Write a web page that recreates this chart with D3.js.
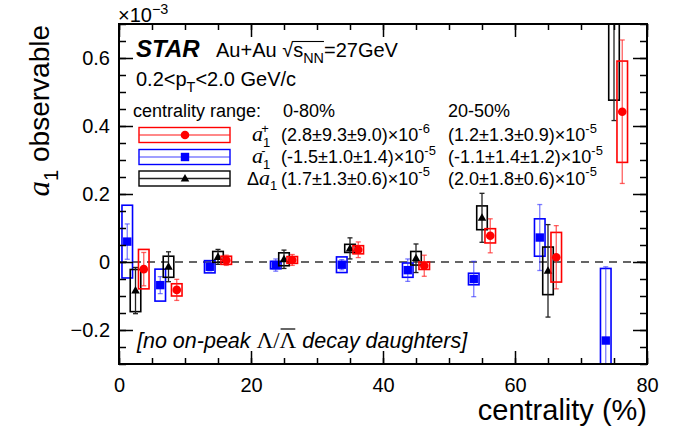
<!DOCTYPE html>
<html><head><meta charset="utf-8">
<script src="https://cdn.jsdelivr.net/npm/d3@7"></script>
<style>body{margin:0;background:#fff}svg{display:block}</style>
</head><body>
<svg id="c" width="689" height="430"></svg>
<script>
// ---------------- data (values in units of 1e-3) ----------------
const centralityBins = [2.5, 7.5, 15, 25, 35, 45, 55, 65, 75];
const aPlusVal  = [-0.021, -0.082, 0.005, 0.006, 0.036, -0.011, 0.077, 0.014, 0.442];
const aPlusStat = [0.049, 0.031, 0.015, 0.016, 0.023, 0.031, 0.050, 0.093, 0.211];
const aPlusSys  = [0.058, 0.018, 0.012, 0.010, 0.012, 0.011, 0.021, 0.073, 0.149];
const aMinusVal  = [0.060, -0.068, -0.014, -0.009, -0.008, -0.024, -0.050, 0.072, -0.231];
const aMinusStat = [0.052, 0.025, 0.012, 0.018, 0.015, 0.033, 0.052, 0.097, 0.217];
const aMinusSys  = [0.107, 0.047, 0.018, 0.011, 0.023, 0.021, 0.017, 0.055, 0.212];
const dAVal  = [-0.084, -0.014, 0.015, 0.008, 0.040, 0.011, 0.130, -0.026, 0.900];
const dAStat = [0.068, 0.044, 0.022, 0.027, 0.031, 0.042, 0.072, 0.136, 0.484];
const dASys  = [0.062, 0.031, 0.016, 0.019, 0.012, 0.020, 0.035, 0.070, 0.424];
const xTicks = [0, 20, 40, 60, 80];
const yTicks = [-0.2, 0, 0.2, 0.4, 0.6];
const legendRange = ["0-80%", "20-50%"];
const res0080 = ["(2.8\u00b19.3\u00b19.0)\u00d710", "(-1.5\u00b11.0\u00b11.4)\u00d710", "(1.7\u00b11.3\u00b10.6)\u00d710"];
const exp0080 = ["-6", "-5", "-5"];
const res2050 = ["(1.2\u00b11.3\u00b10.9)\u00d710", "(-1.1\u00b11.4\u00b11.2)\u00d710", "(2.0\u00b11.8\u00b10.6)\u00d710"];
const exp2050 = ["-5", "-5", "-5"];

// ---------------- setup ----------------
const SANS = "'Liberation Sans', Arial, Helvetica, sans-serif";
const SERIF = "'Liberation Serif', 'Times New Roman', serif";
const svg = d3.select("#c");
const x = d3.scaleLinear().domain([0, 80]).range([119, 647]);
const y = d3.scaleLinear().domain([-0.3, 0.7]).range([364, 24]);
const X0 = x.range()[0], X1 = x.range()[1], Y0 = y.range()[0], Y1 = y.range()[1];

const series = [
  {val: aMinusVal, stat: aMinusStat, sys: aMinusSys, off: -1.25, col: "#0000ff", ecol: "rgba(40,40,255,0.6)", shape: "square"},
  {val: dAVal, stat: dAStat, sys: dASys, off: 0, col: "#000000", ecol: "#222", shape: "triangle"},
  {val: aPlusVal, stat: aPlusStat, sys: aPlusSys, off: 1.25, col: "#ff0000", ecol: "rgba(255,30,30,0.7)", shape: "circle"}
];

function marker(g, cx, cy, s) {
  if (s.shape === "circle") g.append("circle").attr("cx", cx).attr("cy", cy).attr("r", 4.3).attr("fill", s.col);
  else if (s.shape === "square") g.append("rect").attr("x", cx - 4.2).attr("y", cy - 4.2).attr("width", 8.4).attr("height", 8.4).attr("fill", s.col);
  else g.append("path").attr("d", `M${cx},${cy - 4.5}L${cx + 4.3},${cy + 3}L${cx - 4.3},${cy + 3}Z`).attr("fill", s.col);
}

function rich(g, xx, yy, parts, size, opts = {}) {
  const t = g.append("text").attr("x", xx).attr("y", yy).attr("font-size", size)
    .attr("font-family", SANS).attr("text-anchor", opts.anchor || "start").attr("fill", "#000");
  if (opts.transform) t.attr("transform", opts.transform);
  if (opts.italic) t.attr("font-style", "italic");
  let cur = 0;
  parts.forEach(p => {
    let off = 0, fs = p.size || size;
    if (p.sub) { off = size * 0.32; fs = size * 0.72; }
    if (p.sup) { off = -size * (p.lift || 0.45); fs = size * 0.72; }
    const ts = t.append("tspan").text(p.t).attr("dy", off - cur).attr("font-size", fs);
    if (p.it) ts.attr("font-style", "italic");
    if (p.up) ts.attr("font-style", "normal");
    if (p.serif) ts.attr("font-family", SERIF);
    if (p.bold) ts.attr("font-weight", "bold");
    if (p.dx) ts.attr("dx", p.dx);
    cur = off;
  });
  return t;
}

// ---------------- clip ----------------
svg.append("clipPath").attr("id", "clip").append("rect")
  .attr("x", X0).attr("y", Y1).attr("width", X1 - X0).attr("height", Y0 - Y1);

// zero line
svg.append("line").attr("x1", X0).attr("x2", X1).attr("y1", y(0)).attr("y2", y(0))
  .attr("stroke", "#333").attr("stroke-width", 1.3).attr("stroke-dasharray", "8,6");

// ---------------- data marks ----------------
const plot = svg.append("g").attr("clip-path", "url(#clip)");
const boxHalf = 0.8;
series.forEach(s => {
  const g = plot.append("g");
  centralityBins.forEach((c, i) => {
    const cx = x(c + s.off), v = s.val[i];
    g.append("rect").attr("x", x(c + s.off - boxHalf)).attr("width", x(c + s.off + boxHalf) - x(c + s.off - boxHalf))
      .attr("y", y(v + s.sys[i])).attr("height", y(v - s.sys[i]) - y(v + s.sys[i]))
      .attr("fill", "none").attr("stroke", s.col).attr("stroke-width", 1.6);
    const ytop = y(v + s.stat[i]), ybot = y(v - s.stat[i]);
    g.append("line").attr("x1", cx).attr("x2", cx).attr("y1", ytop).attr("y2", ybot).attr("stroke", s.ecol).attr("stroke-width", 1.3);
    g.append("line").attr("x1", cx - 2.5).attr("x2", cx + 2.5).attr("y1", ytop).attr("y2", ytop).attr("stroke", s.ecol).attr("stroke-width", 1.3);
    g.append("line").attr("x1", cx - 2.5).attr("x2", cx + 2.5).attr("y1", ybot).attr("y2", ybot).attr("stroke", s.ecol).attr("stroke-width", 1.3);
    marker(g, cx, y(v), s);
  });
});

// ---------------- axes ----------------
const minorX = d3.range(0, 81, 5), minorY = d3.range(-0.3, 0.7001, 0.05).map(d => +d.toFixed(2));
function styleAxis(g) { g.select(".domain").remove(); g.selectAll("line").attr("stroke", "#000").attr("stroke-width", 1.5); }
const fmtY = d => d === 0 ? "0" : d3.format(".1f")(d);

svg.append("g").attr("transform", `translate(0,${Y0})`).call(d3.axisBottom(x).tickValues(minorX).tickSize(-6).tickFormat("")).call(styleAxis);
svg.append("g").attr("transform", `translate(0,${Y0})`).call(d3.axisBottom(x).tickValues(xTicks).tickSize(-13).tickPadding(14).tickFormat(d3.format("d"))).call(styleAxis);
svg.append("g").attr("transform", `translate(0,${Y1})`).call(d3.axisTop(x).tickValues(minorX).tickSize(-6).tickFormat("")).call(styleAxis);
svg.append("g").attr("transform", `translate(0,${Y1})`).call(d3.axisTop(x).tickValues(xTicks).tickSize(-13).tickFormat("")).call(styleAxis);
svg.append("g").attr("transform", `translate(${X0},0)`).call(d3.axisLeft(y).tickValues(minorY).tickSize(-7).tickFormat("")).call(styleAxis);
svg.append("g").attr("transform", `translate(${X0},0)`).call(d3.axisLeft(y).tickValues(yTicks).tickSize(-14).tickPadding(9).tickFormat(fmtY)).call(styleAxis);
svg.append("g").attr("transform", `translate(${X1},0)`).call(d3.axisRight(y).tickValues(minorY).tickSize(-7).tickFormat("")).call(styleAxis);
svg.append("g").attr("transform", `translate(${X1},0)`).call(d3.axisRight(y).tickValues(yTicks).tickSize(-14).tickFormat("")).call(styleAxis);
svg.selectAll(".tick text").attr("font-family", SANS).attr("font-size", 20).attr("fill", "#000");

svg.append("rect").attr("x", X0).attr("y", Y1).attr("width", X1 - X0).attr("height", Y0 - Y1)
  .attr("fill", "none").attr("stroke", "#000").attr("stroke-width", 2);

// ---------------- axis titles ----------------
rich(svg, 647, 420, [{t: "centrality (%)"}], 29, {anchor: "end"});
rich(svg, 0, 0, [{t: "a", it: true, serif: true, size: 31}, {t: "1", sub: true}, {t: " observable"}], 28,
  {anchor: "end", transform: `translate(49,${Y1 + 1}) rotate(-90)`});
rich(svg, 118, 22, [{t: "\u00d710"}, {t: "\u22123", sup: true, lift: 0.4}], 20);

// ---------------- header ----------------
rich(svg, 136, 57, [{t: "STAR", bold: true, it: true}], 24);
const hdr = rich(svg, 216, 57, [{t: "Au+Au "}, {t: "\u221A"}, {t: "s"}, {t: "NN", sub: true}, {t: "=27GeV"}], 20);
{
  const e1 = hdr.node().getExtentOfChar(6), e2 = hdr.node().getExtentOfChar(9);
  svg.append("line").attr("x1", e1.x + e1.width - 0.8).attr("x2", e2.x + e2.width).attr("y1", e1.y + 2.5).attr("y2", e1.y + 2.5)
    .attr("stroke", "#000").attr("stroke-width", 1.1);
}
rich(svg, 136, 86, [{t: "0.2<p"}, {t: "T", sub: true}, {t: "<2.0 GeV/c"}], 20);

// ---------------- legend ----------------
rich(svg, 133, 117, [{t: "centrality range:"}], 18);
rich(svg, 283, 117, [{t: legendRange[0]}], 18);
rich(svg, 448, 117, [{t: legendRange[1]}], 18);
const legOrder = [series[2], series[0], series[1]];
const legNames = [
  [{t: "a", it: true, serif: true, size: 22}, {t: "1", sub: true}, {t: "+", sup: true, dx: -9}],
  [{t: "a", it: true, serif: true, size: 22}, {t: "1", sub: true}, {t: "-", sup: true, dx: -9}],
  [{t: "\u0394"}, {t: "a", it: true, serif: true, size: 22}, {t: "1", sub: true}]
];
const legY = [135, 157, 178.5];
legOrder.forEach((s, i) => {
  const cy = legY[i];
  svg.append("rect").attr("x", 139).attr("y", cy - 7.5).attr("width", 91).attr("height", 15)
    .attr("fill", "none").attr("stroke", s.col).attr("stroke-width", 1.4);
  svg.append("line").attr("x1", 139).attr("x2", 230).attr("y1", cy).attr("y2", cy).attr("stroke", s.ecol).attr("stroke-width", 1.4);
  marker(svg, 185, cy, s);
  rich(svg, i === 2 ? 247 : 252, cy + 6, legNames[i], 18);
  rich(svg, 281, cy + 6, [{t: res0080[i]}, {t: exp0080[i], sup: true}], 18);
  rich(svg, 448, cy + 6, [{t: res2050[i]}, {t: exp2050[i], sup: true}], 18);
});

// ---------------- note ----------------
const note = rich(svg, 137, 348, [{t: "[no on-peak "}, {t: "\u039B/\u039B", up: true, serif: true, size: 23}, {t: " decay daughters]"}], 21.5, {italic: true});
{
  const e = note.node().getExtentOfChar(14);
  svg.append("line").attr("x1", e.x + 1).attr("x2", e.x + e.width - 1).attr("y1", e.y + 1).attr("y2", e.y + 1)
    .attr("stroke", "#000").attr("stroke-width", 1.2);
}
</script>
</body></html>
